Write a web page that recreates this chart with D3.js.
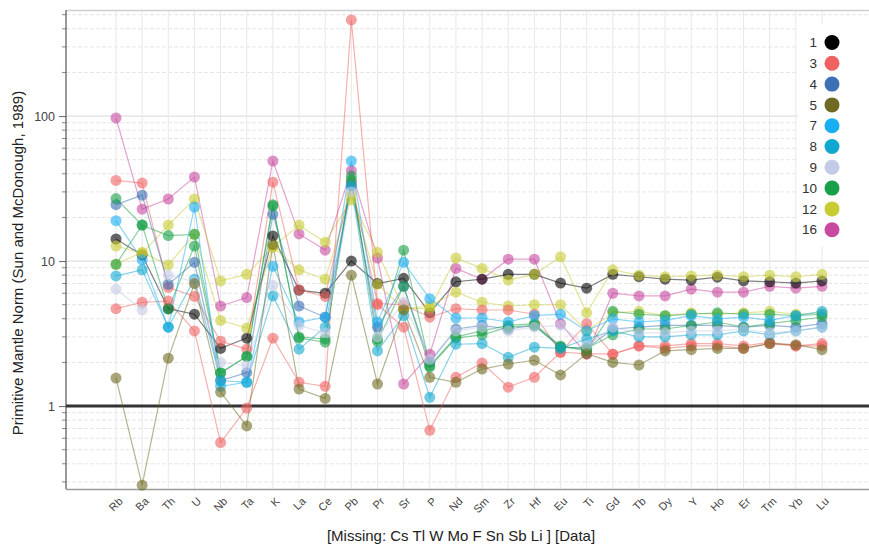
<!DOCTYPE html>
<html>
<head>
<meta charset="utf-8">
<script src="https://cdn.jsdelivr.net/npm/d3@7"></script>
<style>
  html, body { margin: 0; padding: 0; background: #fff; }
  svg { display: block; font-family: "Liberation Sans", Arial, sans-serif; }
</style>
</head>
<body>
<svg id="chart" width="869" height="544"></svg>
<script>
// Elements in spider-diagram order
const elements = ["Rb","Ba","Th","U","Nb","Ta","K","La","Ce","Pb","Pr","Sr","P","Nd","Sm","Zr","Hf","Eu","Ti","Gd","Tb","Dy","Y","Ho","Er","Tm","Yb","Lu"];

// Legend groups and their colours
const groups = ["1","3","4","5","7","8","9","10","12","16"];
const groupColors = ["#000000","#f06262","#3b6fb6","#6e6a22","#18aef0","#10a8d0","#c4cbe6","#18a048","#c8cc32","#c84aa0"];

// Primitive-mantle normalised values per sample
const s16a = [97,22.8,26.8,38,4.9,5.6,49,15.4,11.9,42,10.5,1.42,2.28,8.9,7.5,10.3,10.3,3.7,2.28,6.0,5.75,5.75,6.4,6.1,6.1,6.7,6.5,6.7];
const s1a  = [14.2,11,4.7,4.3,2.5,2.94,14.9,6.3,6.0,10.0,7.0,7.6,4.4,7.2,7.5,8.1,8.1,7.05,6.5,8.1,7.8,7.5,7.4,7.75,7.3,7.2,7.05,7.3];
const s12a = [12.7,11.3,17.7,26.8,7.3,8.1,12.5,17.7,13.5,26.4,11.5,4.7,4.7,10.5,8.9,7.4,8.1,10.7,4.4,8.7,8.0,7.8,7.9,8.0,7.8,8.0,7.8,8.1];
const s12b = [9.5,11.5,9.4,15.3,3.9,3.45,12.5,8.7,7.5,29,6.9,4.7,4.9,6.1,5.2,4.9,5.0,5.0,3.3,4.4,4.5,4.2,4.4,4.3,4.4,4.5,4.3,4.4];
const s3a  = [36,34.5,6.6,5.7,2.8,2.47,35,6.35,5.7,35,5.1,5.0,4.1,4.7,4.6,4.6,4.3,2.35,3.7,2.28,2.6,2.6,2.7,2.7,2.6,2.75,2.6,2.7];
const s3b  = [4.7,5.2,5.3,3.3,0.56,0.97,2.94,1.46,1.37,460,5.0,3.5,0.68,1.58,1.98,1.35,1.58,2.35,2.3,2.28,2.6,2.5,2.6,2.6,2.5,2.7,2.6,2.6];
const s4a  = [24.5,28.5,6.9,9.8,1.5,1.7,21,4.9,4.1,33.4,3.5,6.7,2.0,3.4,3.6,3.4,3.6,2.55,2.5,3.4,3.5,3.6,3.6,3.6,3.5,3.6,3.5,3.7];
const s10a = [27,17.7,4.67,12.7,1.69,2.2,24.5,2.94,2.76,38.5,2.8,6.7,1.86,2.94,3.1,3.5,3.6,2.55,2.5,3.1,3.4,3.4,3.6,3.8,3.5,3.7,3.9,4.1];
const s10b = [9.5,17.7,15,15.3,1.7,2.2,24,3.0,2.9,36,2.9,11.9,1.9,3.0,3.3,3.6,3.7,2.6,2.4,4.5,4.3,4.2,4.3,4.4,4.3,4.3,4.2,4.3];
const s7a  = [19,10.2,3.5,23.6,1.37,1.46,9.2,3.8,4.1,49,3.8,9.8,5.5,4.05,4.05,3.8,4.2,4.3,3.3,4.0,3.8,3.9,4.2,4.0,4.1,3.9,4.2,4.5];
const s8a  = [7.9,8.7,3.5,7.5,1.5,1.46,5.75,2.47,3.5,33,2.4,4.2,1.15,2.67,2.7,2.17,2.55,2.5,2.9,3.3,3.0,3.0,3.1,3.1,3.3,3.1,3.3,3.5];
const s9a  = [6.4,4.6,8.0,7.2,2.0,1.9,6.8,3.6,3.2,30,3.0,5.2,2.1,3.3,3.5,3.3,3.5,3.6,2.6,3.5,3.2,3.2,3.3,3.3,3.4,3.2,3.3,3.5];
const s5a  = [1.56,0.285,2.14,7.0,1.25,0.73,13,1.31,1.13,8.0,1.42,4.6,1.58,1.46,1.8,1.95,2.07,1.64,2.3,2.0,1.92,2.4,2.45,2.5,2.5,2.7,2.65,2.45];

const samples = [
  {group:"16", values:s16a},
  {group:"1",  values:s1a},
  {group:"12", values:s12a},
  {group:"12", values:s12b},
  {group:"3",  values:s3a},
  {group:"3",  values:s3b},
  {group:"4",  values:s4a},
  {group:"10", values:s10a},
  {group:"10", values:s10b},
  {group:"7",  values:s7a},
  {group:"8",  values:s8a},
  {group:"9",  values:s9a},
  {group:"5",  values:s5a}
];

const majorTicks = [1, 10, 100];
const minorTicks = [0.3,0.4,0.5,0.6,0.7,0.8,0.9,2,3,4,5,6,7,8,9,20,30,40,50,60,70,80,90,200,300,400,500];

const svg = d3.select("#chart");
const W = 869;
const plotLeft = 66, plotTop = 10, plotBottom = 489;

const color = d3.scaleOrdinal().domain(groups).range(groupColors);
const x = d3.scalePoint().domain(elements).range([116, 822]);
const y = d3.scaleLog().domain([0.268, 539]).range([plotBottom, plotTop]);

// Grid
const grid = svg.append("g");
grid.selectAll("line.minor").data(minorTicks).join("line")
  .attr("x1", plotLeft).attr("x2", W).attr("y1", d => y(d)).attr("y2", d => y(d))
  .attr("stroke", "#e6e6e6").attr("stroke-width", 1).attr("stroke-dasharray", "4,2");
grid.selectAll("line.major").data(majorTicks).join("line")
  .attr("x1", plotLeft).attr("x2", W).attr("y1", d => y(d)).attr("y2", d => y(d))
  .attr("stroke", "#d8d8d8").attr("stroke-width", 1);
grid.selectAll("line.v").data(elements).join("line")
  .attr("x1", d => x(d)).attr("x2", d => x(d)).attr("y1", plotTop).attr("y2", plotBottom)
  .attr("stroke", "#e8e8e8").attr("stroke-width", 1);

// Frame
svg.append("line").attr("x1", plotLeft).attr("x2", W).attr("y1", plotTop + 0.5).attr("y2", plotTop + 0.5)
  .attr("stroke", "#cfcfcf").attr("stroke-width", 1.5);
svg.append("line").attr("x1", plotLeft).attr("x2", W).attr("y1", plotBottom + 0.5).attr("y2", plotBottom + 0.5)
  .attr("stroke", "#9a9a9a").attr("stroke-width", 1.5);

// Y axis
const yAxis = d3.axisLeft(y).tickValues(majorTicks).tickFormat(d3.format("d")).tickSize(7).tickPadding(4);
const gy = svg.append("g").attr("transform", `translate(${plotLeft},0)`).call(yAxis);
gy.select(".domain").remove();
gy.selectAll(".tick line").attr("stroke", "#666");
gy.selectAll(".tick text").attr("fill", "#444").style("font-size", "12.5px").style("font-family", "Liberation Sans, Arial, sans-serif");
svg.append("g").selectAll("line").data(minorTicks).join("line")
  .attr("x1", plotLeft - 4).attr("x2", plotLeft).attr("y1", d => y(d)).attr("y2", d => y(d))
  .attr("stroke", "#888");
svg.append("line").attr("x1", plotLeft).attr("x2", plotLeft).attr("y1", plotTop).attr("y2", plotBottom)
  .attr("stroke", "#555").attr("stroke-width", 1.2);

// Normalisation reference line at 1
svg.append("line").attr("x1", plotLeft).attr("x2", W).attr("y1", y(1)).attr("y2", y(1))
  .attr("stroke", "#333").attr("stroke-width", 3);

// X axis labels
const xAxis = d3.axisBottom(x).tickSize(0).tickPadding(0);
const gx = svg.append("g").attr("transform", `translate(0,${plotBottom})`).call(xAxis);
gx.select(".domain").remove();
gx.selectAll(".tick text")
  .attr("text-anchor", "end")
  .attr("dy", 0)
  .attr("transform", "translate(7,13) rotate(-45)")
  .attr("fill", "#444")
  .style("font-size", "11px")
  .style("font-family", "Liberation Sans, Arial, sans-serif");

// Sample lines and markers
const line = d3.line().x((d, i) => x(elements[i])).y(d => y(d));
const plot = svg.append("g");
plot.selectAll("path.sample").data(samples).join("path")
  .attr("d", d => line(d.values))
  .attr("fill", "none")
  .attr("stroke", d => color(d.group))
  .attr("stroke-width", 1.2)
  .attr("stroke-opacity", 0.5);
samples.forEach(s => {
  plot.append("g").selectAll("circle").data(s.values).join("circle")
    .attr("cx", (d, i) => x(elements[i]))
    .attr("cy", d => y(d))
    .attr("r", 5.5)
    .attr("fill", color(s.group))
    .attr("fill-opacity", 0.6);
});

// Legend
const lg = svg.append("g");
lg.append("rect").attr("x", 798).attr("y", 24).attr("width", 80).attr("height", 222).attr("fill", "#fff");
const items = lg.selectAll("g.item").data(groups).join("g")
  .attr("transform", (d, i) => `translate(0,${42.5 + i * 20.8})`);
items.append("text").attr("x", 817).attr("y", 0).attr("dy", "0.35em")
  .attr("text-anchor", "end").attr("fill", "#333").style("font-size", "13.5px").text(d => d);
items.append("circle").attr("cx", 832).attr("cy", 0).attr("r", 7.5).attr("fill", d => color(d));

// Axis titles
svg.append("text")
  .attr("transform", "translate(23,263) rotate(-90)")
  .attr("text-anchor", "middle").attr("fill", "#222").style("font-size", "15px")
  .text("Primitive Mantle Norm (Sun and McDonough, 1989)");
svg.append("text")
  .attr("x", 461).attr("y", 541).attr("text-anchor", "middle")
  .attr("fill", "#222").style("font-size", "15px")
  .text("[Missing: Cs Tl W Mo F Sn Sb Li ] [Data]");
</script>
</body>
</html>
